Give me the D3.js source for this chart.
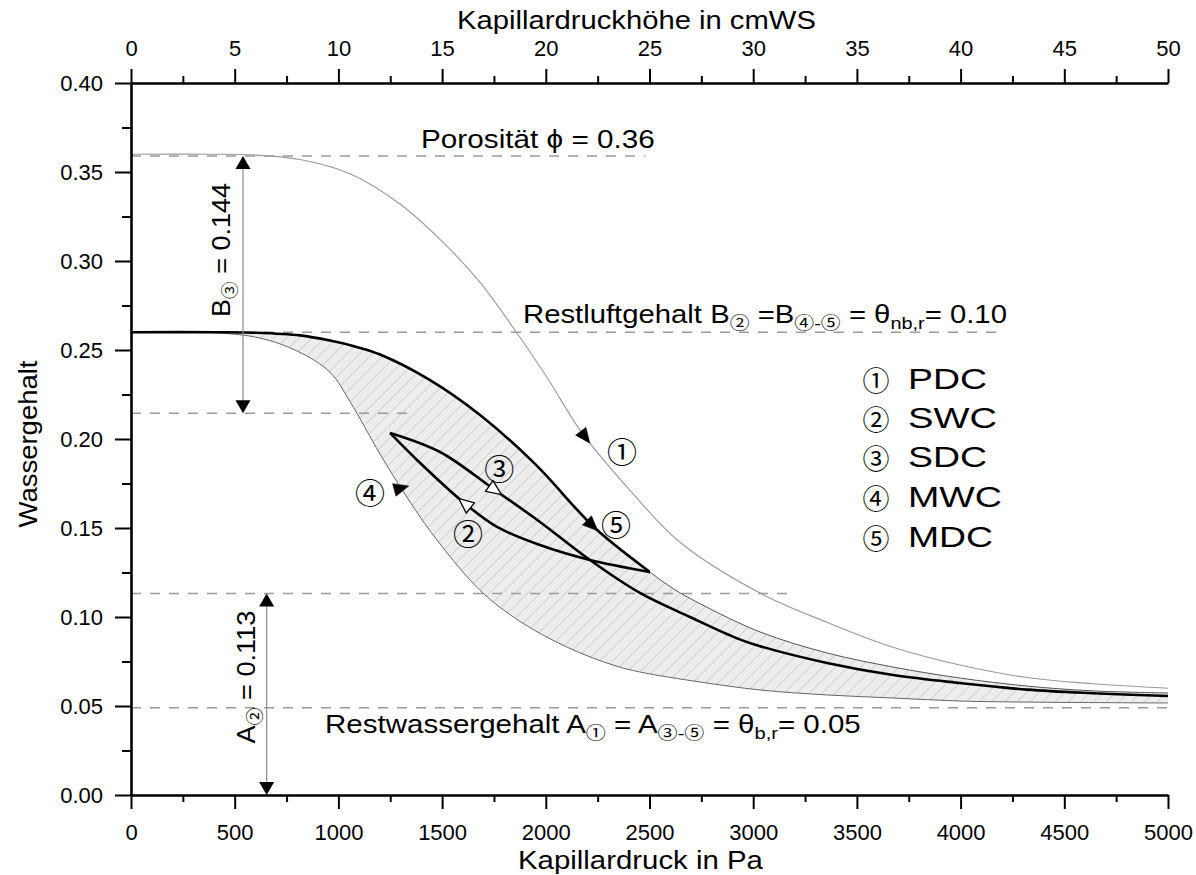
<!DOCTYPE html>
<html><head><meta charset="utf-8">
<script src="https://cdn.jsdelivr.net/npm/d3@7"></script>
<style>
html,body{margin:0;padding:0;background:#fff;}
svg{display:block;}
text{font-family:"Liberation Sans",Arial,"Noto Sans CJK SC","DejaVu Sans",sans-serif;fill:#000;}
text.circ{font-family:"Noto Sans CJK SC","DejaVu Sans",sans-serif;}
</style></head><body>
<svg id="chart" width="1196" height="875"></svg>
<script>
// ---------------- data ----------------
const pressureMajor = [0,500,1000,1500,2000,2500,3000,3500,4000,4500,5000];
const pressureMinor = [250,750,1250,1750,2250,2750,3250,3750,4250,4750];
const headMajor = [0,5,10,15,20,25,30,35,40,45,50];
const headMinor = [2.5,7.5,12.5,17.5,22.5,27.5,32.5,37.5,42.5,47.5];
const thetaMajor = [0,0.05,0.10,0.15,0.20,0.25,0.30,0.35,0.40];
const thetaMinor = [0.025,0.075,0.125,0.175,0.225,0.275,0.325,0.375];

// (1) PDC primary drainage curve
const pdcX = [0,400,600,815,1056,1297,1500,1683,1876,2020,2165,2392,2647,3040,3356,3674,3997,4320,4638,5000];
const pdcY = [0.360,0.360,0.3595,0.357,0.349,0.332,0.311,0.288,0.257,0.232,0.205,0.173,0.142,0.113,0.097,0.083,0.073,0.066,0.0625,0.060];
// (5) MDC main drainage curve (upper bound of hatched band)
const mdcX = [0,415,600,815,960,1080,1201,1442,1683,1948,2237,2502,2613,2743,3033,3356,3674,3997,4320,4638,5000];
const mdcY = [0.260,0.260,0.2597,0.2582,0.2553,0.2520,0.2475,0.2331,0.2135,0.1860,0.1500,0.1253,0.1160,0.1075,0.0916,0.0798,0.0719,0.0657,0.0612,0.0585,0.0573];
const mdcThickEnd = 2502;
// (4) MWC main wetting curve (lower bound of hatched band)
const mwcX = [0,415,622,800,960,1056,1201,1321,1451,1683,1876,2102,2324,2454,2743,3033,3356,3674,3997,4320,5000];
const mwcY = [0.260,0.2596,0.2567,0.2495,0.2375,0.2210,0.1915,0.1690,0.1470,0.1150,0.0975,0.0831,0.0730,0.0691,0.0635,0.0590,0.0562,0.0545,0.0528,0.0522,0.0517];
// (3) SDC scanning drainage curve
const sdcX = [1249,1490,1755,1972,2213,2454,2695,2922,3033,3356,3674,3997,4320,4638,5000];
const sdcY = [0.2034,0.1927,0.1713,0.1534,0.1320,0.1135,0.1000,0.0880,0.0836,0.0742,0.0674,0.0629,0.0592,0.0572,0.0556];
// (2) SWC scanning wetting curve
const swcX = [1249,1379,1601,1765,1972,2213,2502];
const swcY = [0.2034,0.1882,0.1646,0.1506,0.1404,0.1320,0.1253];

// horizontal reference levels (dashed) and their extent in Pa
const refLevels = [0.359,0.26,0.2145,0.1132,0.049];
const refEnds = [2480,4190,1370,3200,5000];

// vertical dimension arrows
const spanX = [540,654];
const spanFrom = [0.2145,0];
const spanTo = [0.359,0.1132];

const legendSymbols = ["①","②","③","④","⑤"];
const legendNames = ["PDC","SWC","SDC","MWC","MDC"];

// ---------------- chart ----------------
const svg = d3.select("#chart");
const x = d3.scaleLinear([0,5000],[131,1168]);
const xTop = d3.scaleLinear([0,50],[131,1168]);
const y = d3.scaleLinear([0,0.4],[795,83]);

const zip = (xs,ys)=>xs.map((v,i)=>[v,ys[i]]);
const pdc = zip(pdcX,pdcY), mdc = zip(mdcX,mdcY), mwc = zip(mwcX,mwcY), sdc = zip(sdcX,sdcY), swc = zip(swcX,swcY);

const defs = svg.append("defs");
const pat = defs.append("pattern").attr("id","hatch").attr("patternUnits","userSpaceOnUse")
  .attr("width",9).attr("height",9).attr("patternTransform","rotate(45)");
pat.append("rect").attr("width",9).attr("height",9).attr("fill","#ededed");
pat.append("line").attr("x1",0).attr("y1",0).attr("x2",0).attr("y2",9).attr("stroke","#b8b8b8").attr("stroke-width",1);

const crv = d3.curveCatmullRom.alpha(0.5);
const line = d3.line().x(d=>x(d[0])).y(d=>y(d[1])).curve(crv);
const areaBelow = d3.area().x(d=>x(d[0])).y0(y(0)).y1(d=>y(d[1])).curve(crv);
const areaAbove = d3.area().x(d=>x(d[0])).y0(y(0.4)).y1(d=>y(d[1])).curve(crv);

defs.append("clipPath").attr("id","cBelow").append("path").attr("d",areaBelow(mdc));
defs.append("clipPath").attr("id","cAbove").append("path").attr("d",areaAbove(mwc));
defs.append("clipPath").attr("id","cThick").append("rect")
  .attr("x",0).attr("y",0).attr("width",x(mdcThickEnd)).attr("height",875);

// hatched band
svg.append("g").attr("clip-path","url(#cBelow)")
  .append("g").attr("clip-path","url(#cAbove)")
  .append("rect").attr("x",x(0)).attr("y",y(0.4)).attr("width",x(5000)-x(0)).attr("height",y(0)-y(0.4))
  .attr("fill","url(#hatch)");

// dashed reference lines
svg.append("g").selectAll("line").data(refLevels).join("line")
  .attr("x1",x(0)).attr("x2",(d,i)=>x(refEnds[i]))
  .attr("y1",d=>y(d)).attr("y2",d=>y(d))
  .attr("stroke","#9a9a9a").attr("stroke-width",1.4).attr("stroke-dasharray","10,9");

// curves
const curves = svg.append("g").attr("fill","none");
const pdcPath = curves.append("path").attr("d",line(pdc)).attr("stroke","#9a9a9a").attr("stroke-width",1.1);
const mwcPath = curves.append("path").attr("d",line(mwc)).attr("stroke","#666").attr("stroke-width",1);
const mdcPath = curves.append("path").attr("d",line(mdc)).attr("stroke","#555").attr("stroke-width",1);
curves.append("path").attr("d",line(mdc)).attr("stroke","#000").attr("stroke-width",2.6).attr("clip-path","url(#cThick)");
const sdcPath = curves.append("path").attr("d",line(sdc)).attr("stroke","#000").attr("stroke-width",2.6);
const swcPath = curves.append("path").attr("d",line(swc)).attr("stroke","#000").attr("stroke-width",2.6);

// arrowheads on curves
function pointAtX(node, px){
  let lo=0, hi=node.getTotalLength();
  for(let k=0;k<40;k++){const mid=(lo+hi)/2; if(node.getPointAtLength(mid).x<px) lo=mid; else hi=mid;}
  const L=(lo+hi)/2, p=node.getPointAtLength(L), a=node.getPointAtLength(Math.max(0,L-2)), b=node.getPointAtLength(L+2);
  return {x:p.x,y:p.y,ang:Math.atan2(b.y-a.y,b.x-a.x)*180/Math.PI};
}
function arrowHead(node, val, dir, filled, fixedAng){
  const p = pointAtX(node, x(val));
  const ang = fixedAng!==undefined ? fixedAng : p.ang + (dir<0?180:0);
  svg.append("path").attr("d","M8,0L-7,-6.5L-7,6.5Z")
    .attr("transform",`translate(${p.x},${p.y}) rotate(${ang})`)
    .attr("fill",filled?"#000":"#fff").attr("stroke","#000").attr("stroke-width",filled?0.5:1.3);
}
arrowHead(pdcPath.node(), 2189, 1, true);
arrowHead(mdcPath.node(), 2223, 1, true);
arrowHead(mwcPath.node(), 1302, -1, true, -15);
arrowHead(sdcPath.node(), 1755, 1, false);
arrowHead(swcPath.node(), 1610, -1, false);

// vertical dimension arrows
spanX.forEach((sx,i)=>{
  const px=x(sx), y1=y(spanTo[i]), y2=y(spanFrom[i]);
  svg.append("line").attr("x1",px).attr("x2",px).attr("y1",y1+6).attr("y2",y2-6).attr("stroke","#8a8a8a").attr("stroke-width",1.2);
  svg.append("path").attr("d",`M${px},${y1}L${px-7.5},${y1+13}L${px+7.5},${y1+13}Z`).attr("fill","#000");
  svg.append("path").attr("d",`M${px},${y2}L${px-7.5},${y2-13}L${px+7.5},${y2-13}Z`).attr("fill","#000");
});

// axes
function styleAxis(g, fs){
  g.attr("font-size",fs);
  g.selectAll(".domain").attr("stroke","#000").attr("stroke-width",2.6);
  g.selectAll(".tick line").attr("stroke","#000").attr("stroke-width",2);
}
const gl = svg.append("g").attr("transform",`translate(${x(0)},0)`);
gl.call(d3.axisLeft(y).tickValues(thetaMajor).tickFormat(d3.format(".2f")).tickSize(16).tickPadding(12).tickSizeOuter(0));
styleAxis(gl,22);
const glm = svg.append("g").attr("transform",`translate(${x(0)},0)`);
glm.call(d3.axisLeft(y).tickValues(thetaMinor).tickFormat("").tickSize(9).tickSizeOuter(0));
styleAxis(glm,22); glm.select(".domain").remove();

const gb = svg.append("g").attr("transform",`translate(0,${y(0)})`);
gb.call(d3.axisBottom(x).tickValues(pressureMajor).tickFormat(d3.format("d")).tickSize(14).tickPadding(15).tickSizeOuter(0));
styleAxis(gb,22);
const gbm = svg.append("g").attr("transform",`translate(0,${y(0)})`);
gbm.call(d3.axisBottom(x).tickValues(pressureMinor).tickFormat("").tickSize(7).tickSizeOuter(0));
styleAxis(gbm,22); gbm.select(".domain").remove();

const gt = svg.append("g").attr("transform",`translate(0,${y(0.4)})`);
gt.call(d3.axisTop(xTop).tickValues(headMajor).tickFormat(d3.format("d")).tickSize(14).tickPadding(13).tickSizeOuter(0));
styleAxis(gt,22);
const gtm = svg.append("g").attr("transform",`translate(0,${y(0.4)})`);
gtm.call(d3.axisTop(xTop).tickValues(headMinor).tickFormat("").tickSize(7).tickSizeOuter(0));
styleAxis(gtm,22); gtm.select(".domain").remove();

// rich text helper (subscripts), stretched to a target width
function richText(px, py, targetW, parts, fs, subFs, subDy, opts={}){
  const g = svg.append("g");
  const t = g.append("text").attr("font-size",fs);
  let off=0;
  parts.forEach(([s,sub])=>{
    const ts=t.append("tspan").text(s);
    if(sub){ts.attr("font-size",subFs).attr("dy",subDy-off); off=subDy;}
    else {ts.attr("dy",-off); off=0;}
  });
  const w = t.node().getComputedTextLength();
  const sx = targetW ? targetW/w : 1;
  if(opts.anchor) t.attr("text-anchor",opts.anchor);
  g.attr("transform",`translate(${px},${py})${opts.rotate?" rotate(-90)":""} scale(${sx},1)`);
  return g;
}

// axis titles
richText(457,29,359,[["Kapillardruckhöhe in cmWS"]],25);
richText(518,869,245,[["Kapillardruck in Pa"]],25);
richText(37,444,167,[["Wassergehalt"]],26,0,0,{rotate:true,anchor:"middle"});

// annotations
richText(421,148,234,[["Porosität  ϕ = 0.36"]],25);
richText(523,323,484,[["Restluftgehalt B"],["②",true],[" =B"],["④-⑤",true],[" = θ"],["nb,r",true],["= 0.10"]],25,17,6);
richText(325,733,536,[["Restwassergehalt A"],["①",true],[" = A"],["③-⑤",true],[" = θ"],["b,r",true],["= 0.05"]],25,17,6);
richText(230,250,134,[["B"],["③",true],[" = 0.144"]],26,17,6,{rotate:true,anchor:"middle"});
richText(255,677,133,[["A"],["②",true],[" = 0.113"]],26,17,6,{rotate:true,anchor:"middle"});

// circled curve labels
const curveLabelPos = [[2367,0.1938],[1625,0.1478],[1775,0.1845],[1152,0.1708],[2338,0.1528]];
svg.append("g").selectAll("text").data(legendSymbols).join("text").attr("class","circ")
  .attr("x",(d,i)=>x(curveLabelPos[i][0])).attr("y",(d,i)=>y(curveLabelPos[i][1]))
  .attr("text-anchor","middle").attr("dominant-baseline","central").attr("font-size",30).text(d=>d);

// legend
const legBase = [389,428,467,507,547];
const legW = [79,89,79,94,85];
legendSymbols.forEach((s,i)=>{
  svg.append("text").attr("class","circ").attr("x",876).attr("y",legBase[i]-10).attr("text-anchor","middle")
    .attr("dominant-baseline","central").attr("font-size",27).text(s);
  richText(908,legBase[i],legW[i],[[legendNames[i]]],29);
});
</script>
</body></html>
